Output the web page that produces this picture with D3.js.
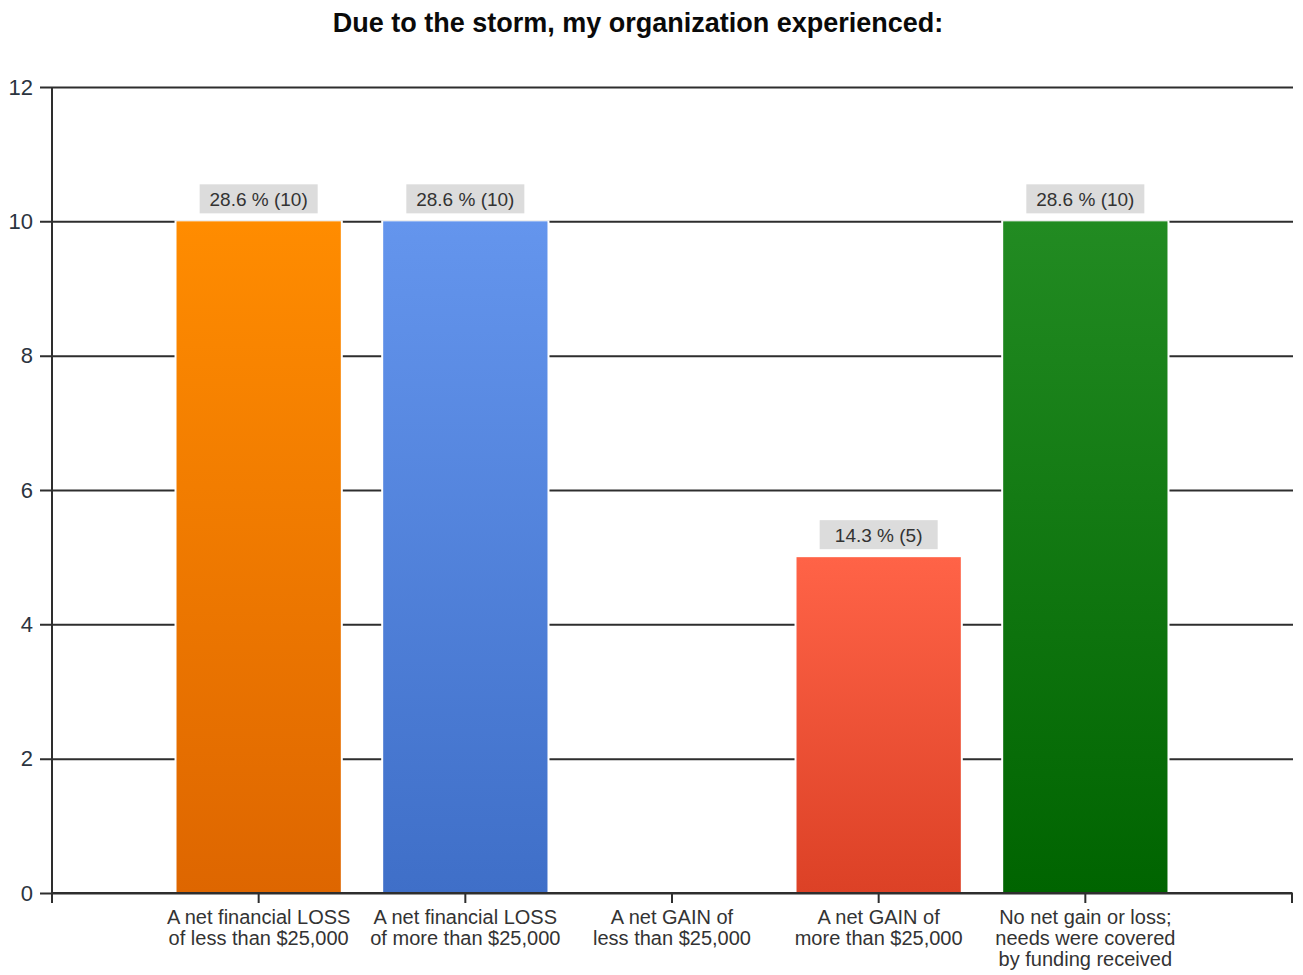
<!DOCTYPE html>
<html>
<head>
<meta charset="utf-8">
<script src="https://cdn.jsdelivr.net/npm/d3@7"></script>
<style>
  html, body { margin: 0; padding: 0; background: #fff; }
  svg { display: block; font-family: "Liberation Sans", Arial, sans-serif; }
</style>
</head>
<body>
<svg id="chart" width="1303" height="975"></svg>
<script>
// Survey answers and counts
const categories = [
  ["A net financial LOSS", "of less than $25,000"],
  ["A net financial LOSS", "of more than $25,000"],
  ["A net GAIN of", "less than $25,000"],
  ["A net GAIN of", "more than $25,000"],
  ["No net gain or loss;", "needs were covered", "by funding received"]
];
const counts = [10, 10, 0, 5, 10];
const percents = [28.6, 28.6, 0, 14.3, 28.6];
const yTicks = [0, 2, 4, 6, 8, 10, 12];
const title = "Due to the storm, my organization experienced:";

// Top / bottom gradient colours for each bar
const barColors = [
  ["#FF8C00", "#DE6600"],
  ["#6495ED", "#3F6FC8"],
  ["#FF6347", "#DC4126"],
  ["#228B22", "#006400"]
];
const colorIndex = [0, 1, 2, 2, 3];

const svg = d3.select("#chart");
const plotLeft = 52, plotRight = 1292, plotTop = 87, plotBottom = 893;
const lineColor = "#2e2e2e";

const keys = categories.map((c, i) => i);
const x = d3.scalePoint().domain(keys).range([plotLeft, plotRight]).padding(1);
const barW = x.step() * 0.795;
const y = d3.scaleLinear().domain([0, 12]).range([plotBottom, plotTop]);

const defs = svg.append("defs");
barColors.forEach((c, i) => {
  const g = defs.append("linearGradient").attr("id", "grad" + i)
    .attr("x1", 0).attr("y1", 0).attr("x2", 0).attr("y2", 1);
  g.append("stop").attr("offset", "0%").attr("stop-color", c[0]);
  g.append("stop").attr("offset", "100%").attr("stop-color", c[1]);
});

// Title
svg.append("text")
  .attr("x", 638).attr("y", 32)
  .attr("text-anchor", "middle")
  .attr("font-size", 27).attr("font-weight", "bold")
  .attr("fill", "#0a0a0a")
  .text(title);

// Horizontal grid lines with tick stubs on the left
const grid = svg.append("g")
  .attr("transform", `translate(${plotLeft},0)`)
  .call(d3.axisLeft(y).tickValues(yTicks).tickSize(-(plotRight + 1 - plotLeft)).tickSizeOuter(0).tickPadding(20));
grid.select(".domain").remove();
grid.selectAll(".tick line")
  .attr("x1", -12)
  .attr("stroke", lineColor).attr("stroke-width", 2);
grid.selectAll(".tick text")
  .attr("x", -19)
  .attr("font-size", 22)
  .attr("font-family", "Liberation Sans, Arial, sans-serif")
  .attr("fill", "#2b3440");

// Bars, with a thin white rim that breaks the grid lines
const bars = svg.append("g");
keys.forEach(i => {
  if (counts[i] <= 0) return;
  const cx = x(i);
  bars.append("rect")
    .attr("x", cx - barW / 2 - 2).attr("width", barW + 4)
    .attr("y", y(counts[i]) - 1).attr("height", y(0) - y(counts[i]) + 1)
    .attr("fill", "#fff");
  bars.append("rect")
    .attr("x", cx - barW / 2).attr("width", barW)
    .attr("y", y(counts[i])).attr("height", y(0) - y(counts[i]))
    .attr("fill", `url(#grad${colorIndex[i]})`);
});

// Value labels above bars
const labels = svg.append("g");
keys.forEach(i => {
  if (counts[i] <= 0) return;
  const cx = x(i);
  const yTop = y(counts[i]);
  labels.append("rect")
    .attr("x", cx - 59).attr("width", 118)
    .attr("y", yTop - 37).attr("height", 29)
    .attr("fill", "#dcdcdc");
  labels.append("text")
    .attr("x", cx).attr("y", yTop - 15)
    .attr("text-anchor", "middle")
    .attr("font-size", 19).attr("fill", "#333")
    .text(`${percents[i].toFixed(1)} % (${counts[i]})`);
});

// Left axis line
svg.append("line")
  .attr("x1", plotLeft).attr("x2", plotLeft)
  .attr("y1", plotTop).attr("y2", plotBottom + 10)
  .attr("stroke", lineColor).attr("stroke-width", 2);

// Bottom axis with ticks at category centres and both ends
const xAxis = svg.append("g");
xAxis.append("line")
  .attr("x1", plotLeft).attr("x2", plotRight)
  .attr("y1", plotBottom).attr("y2", plotBottom)
  .attr("stroke", lineColor).attr("stroke-width", 2);
const tickXs = [plotLeft, ...keys.map(k => x(k)), plotRight];
xAxis.selectAll("line.t").data(tickXs).join("line")
  .attr("class", "t")
  .attr("x1", d => d).attr("x2", d => d)
  .attr("y1", plotBottom).attr("y2", plotBottom + 10)
  .attr("stroke", lineColor).attr("stroke-width", 2);

// Category labels
keys.forEach(i => {
  const t = xAxis.append("text")
    .attr("x", x(i)).attr("y", 924)
    .attr("text-anchor", "middle")
    .attr("font-size", 20).attr("fill", "#333");
  categories[i].forEach((line, j) => {
    t.append("tspan").attr("x", x(i)).attr("dy", j === 0 ? 0 : 21).text(line);
  });
});
</script>
</body>
</html>
